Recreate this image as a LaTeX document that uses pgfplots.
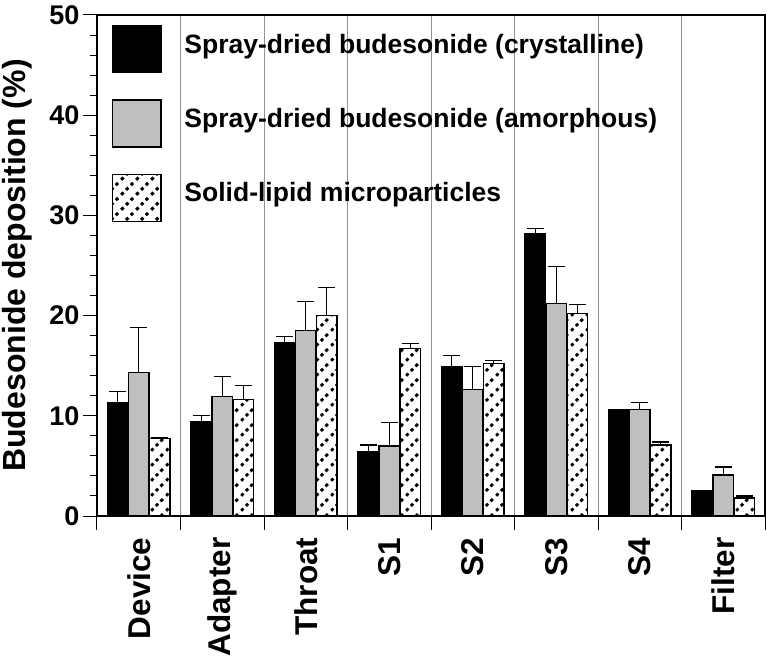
\documentclass[border=0pt]{standalone}
\usepackage{fontspec}
\setmainfont{Liberation Sans}
\usepackage{pgfplots}
\usepackage{pgfplotstable}
\pgfplotsset{compat=1.18}
\usetikzlibrary{patterns.meta}

% dashed diagonal hatching of the lipid microparticle bars
\pgfdeclarepattern{
  name=dotdiag,
  type=uncolored,
  bottom left={\pgfpoint{0pt}{0pt}},
  top right={\pgfpoint{15pt}{15pt}},
  tile size={\pgfpoint{15pt}{15pt}},
  code={
    \pgfsetlinewidth{3pt}
    \pgfsetbuttcap
    \pgfsetdash{{3.4pt}{3.67pt}}{5.235pt}
    \pgfpathmoveto{\pgfpoint{0pt}{0pt}}
    \pgfpathlineto{\pgfpoint{15pt}{15pt}}
    \pgfusepath{stroke}
  }
}

\pgfplotstableread{
x y e
0 11.3 1.1
1 9.4 0.6
2 17.3 0.6
3 6.4 0.7
4 14.9 1.1
5 28.2 0.5
6 10.6 0
7 2.5 0
}\crystalline

\pgfplotstableread{
x y e
0 14.3 4.5
1 11.9 2.0
2 18.5 2.9
3 7.0 2.3
4 12.6 2.3
5 21.2 3.7
6 10.6 0.7
7 4.1 0.8
}\amorphous

\pgfplotstableread{
x y e
0 7.75 0.1
1 11.6 1.4
2 20.0 2.8
3 16.7 0.5
4 15.2 0.3
5 20.2 0.9
6 7.1 0.3
7 1.8 0.2
}\lipid

\pgfplotsset{
  ebar/.style={error bars/.cd,
    y dir=plus, y explicit,
    error mark=|,
    error bar style={black, line width=1.3pt},
    error mark options={black, line width=1.3pt, mark size=8.5pt}},
}

\begin{document}
\begin{tikzpicture}
\begin{axis}[
    at={(0,0)}, anchor=south west,
    scale only axis,
    width=668pt, height=501pt,
    ybar=0.5pt, bar width=20.5pt,
    xmin=-0.5, xmax=7.5,
    ymin=0, ymax=50,
    xtick={-0.5,0.5,...,7.5},
    xticklabels={},
    extra x ticks={0,...,7},
    extra x tick labels={Device,Adapter,Throat,S1,S2,S3,S4,Filter},
    extra x tick style={major tick style={draw=none}, xmajorgrids=false},
    xmajorgrids=true,
    major grid style={gray!85, line width=0.8pt},
    ytick={0,10,...,50},
    minor y tick num=4,
    tick pos=left,
    tick align=outside,
    major tick length=14pt,
    minor tick length=7pt,
    tick style={black, line width=1pt},
    axis line style={black, line width=1.3pt},
    /pgf/number format/assume math mode=true,
    yticklabel style={font=\fontsize{27}{27}\selectfont\bfseries},
    xticklabel style={font=\fontsize{31.5}{31.5}\selectfont\bfseries, rotate=90, anchor=east, xshift=-4pt},
    ylabel={Budesonide deposition (\%)},
    ylabel style={at={(axis description cs:0,0.5)}, anchor=center, yshift=80pt,
        font=\fontsize{32}{32}\selectfont\bfseries},
    legend style={draw=none, fill=none, at={(axis description cs:0,1)}, anchor=north west,
        xshift=15pt, yshift=-10pt, inner sep=0pt, row sep=26pt, column sep=23pt,
        nodes={inner sep=0pt}, font=\fontsize{26.5}{26.5}\selectfont\bfseries},
    legend cell align=left,
    legend image code/.code={\draw[#1] (0pt,-28.5pt) rectangle (48pt,18.5pt);},
]
\addplot[fill=black, draw=black, line width=1.3pt, ebar]
    table[x=x, y=y, y error=e] {\crystalline};
\addlegendentry{Spray-dried budesonide (crystalline)}
\addplot[fill=gray!50, draw=black, line width=1.3pt, ebar]
    table[x=x, y=y, y error=e] {\amorphous};
\addlegendentry{Spray-dried budesonide (amorphous)}
\addplot[fill=white, draw=black, line width=1.3pt, postaction={pattern=dotdiag}, ebar]
    table[x=x, y=y, y error=e] {\lipid};
\addlegendentry{Solid-lipid microparticles}
\end{axis}
\pgfresetboundingbox
\path[use as bounding box] (-97pt,-145pt) rectangle (670pt,516pt);
\end{tikzpicture}
\end{document}
